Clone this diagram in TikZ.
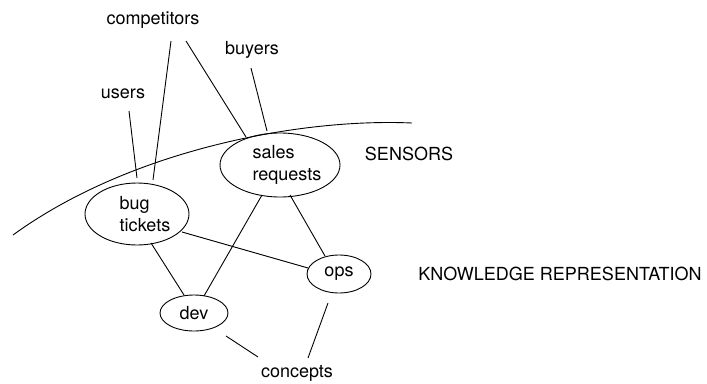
\documentclass[tikz,border=0pt]{standalone}
\usepackage{fontspec}
\setmainfont{TeX Gyre Heros}
\usetikzlibrary{shapes.geometric}
\begin{document}
\begin{tikzpicture}[x=1pt,y=-1pt,
  every node/.style={font=\fontsize{18}{21.5}\selectfont, inner sep=0pt},
  lbl/.style={anchor=base},
  oval/.style={draw, ellipse, line width=0.9pt, align=left},
  conn/.style={line width=0.9pt}]
\useasboundingbox (0,0) rectangle (707,383);
% text nodes
\node[lbl] (comp) at (153,24.5) {competitors};
\node[lbl] (buyers) at (252,54.5) {buyers};
\node[lbl] (users) at (123,98) {users};
\node[lbl] (sensors) at (409,160) {SENSORS};
\node[lbl] (kr) at (560,280) {KNOWLEDGE REPRESENTATION};
\node[lbl] (concepts) at (297,377) {concepts};
% ellipses
\node[oval, minimum width=120pt, minimum height=64pt] (sales) at (280,165) {\hspace*{14pt}sales\\\hspace*{14pt}requests};
\node[oval, minimum width=104pt, minimum height=62pt] (bug) at (137,214) {\hspace*{16pt}bug\\\hspace*{16pt}tickets};
\node[oval, minimum width=64pt, minimum height=38pt] (ops) at (339,274) {ops};
\node[oval, minimum width=68pt, minimum height=36pt] (dev) at (194,313) {dev};
% boundary arc
\coordinate (arcL) at (13,235);
\coordinate (arcR) at (412,123);
\draw[conn] (arcL) .. controls (130,150) and (300,118) .. (arcR);
% connectors
\draw[conn] ([shift={(6,13)}]users.base) -- ([shift={(0,-36)}]bug.center);
\draw[conn] ([shift={(18,16.5)}]comp.base) -- ([shift={(16,-34)}]bug.center);
\draw[conn] ([shift={(33,16.5)}]comp.base) -- ([shift={(-34,-28)}]sales.center);
\draw[conn] ([shift={(-1,13.5)}]buyers.base) -- ([shift={(-13,-34)}]sales.center);
\draw[conn] ([shift={(-18,30)}]sales.center) -- ([shift={(10,-17)}]dev.center);
\draw[conn] ([shift={(10,30)}]sales.center) -- ([shift={(-14,-18)}]ops.center);
\draw[conn] ([shift={(14,29)}]bug.center) -- ([shift={(-10,-18)}]dev.center);
\draw[conn] ([shift={(45,18)}]bug.center) -- ([shift={(-31,-6)}]ops.center);
\draw[conn] ([shift={(32,23)}]dev.center) -- ([shift={(-39,-20)}]concepts.base);
\draw[conn] ([shift={(-11,29)}]ops.center) -- ([shift={(11,-19)}]concepts.base);
\end{tikzpicture}
\end{document}
